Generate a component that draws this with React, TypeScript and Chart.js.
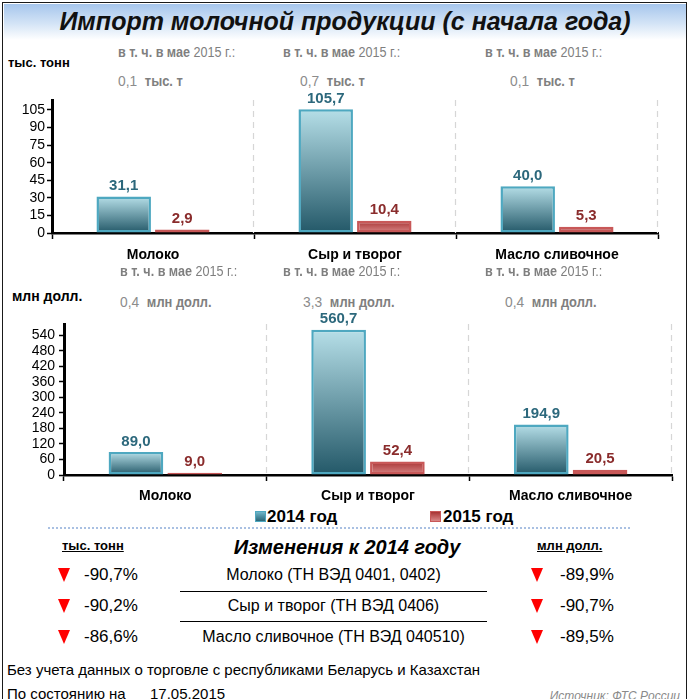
import React, { useEffect, useRef } from "react";
import { Chart, registerables } from "chart.js";
Chart.register(...registerables);

const categories = ["Молоко", "Сыр и творог", "Масло сливочное"];
const volume2014 = [31.1, 105.7, 40.0];
const volume2015 = [2.9, 10.4, 5.3];
const value2014 = [89.0, 560.7, 194.9];
const value2015 = [9.0, 52.4, 20.5];
const seriesNames = ["2014 год", "2015 год"];
const mayVolume = ["0,1", "0,7", "0,1"];
const mayValue = ["0,4", "3,3", "0,4"];
const changeVolume = ["-90,7%", "-90,2%", "-86,6%"];
const changeValue = ["-89,9%", "-90,7%", "-89,5%"];
const productCodes = [
  "Молоко (ТН ВЭД 0401, 0402)",
  "Сыр и творог (ТН ВЭД 0406)",
  "Масло сливочное (ТН ВЭД 040510)",
];
const volumeStep = 15;
const volumeMax = 113.5;
const valueStep = 60;
const valueMax = 583;

const FONT = "'Liberation Sans', Arial, Helvetica, sans-serif";

const fmt = (v: number) => v.toFixed(1).replace(".", ",");

const gradientFill = (top: string, bottom: string) => (c: any) => {
  const chart = c.chart;
  const ys = chart.scales && chart.scales.y;
  if (!ys || c.raw == null) return bottom;
  const y1 = ys.getPixelForValue(c.raw);
  const y0 = ys.getPixelForValue(0);
  if (!isFinite(y1) || !isFinite(y0) || y0 - y1 < 1) return top;
  const g = chart.ctx.createLinearGradient(0, y1, 0, y0);
  g.addColorStop(0, top);
  g.addColorStop(1, bottom);
  return g;
};

const separatorPlugin = {
  id: "separators",
  beforeDatasetsDraw(chart: any) {
    const ctx = chart.ctx;
    const xs = chart.scales.x;
    const n = chart.data.labels.length;
    const w = (xs.right - xs.left) / n;
    const { top, bottom } = chart.chartArea;
    ctx.save();
    ctx.strokeStyle = "#d6d6d6";
    ctx.lineWidth = 1.2;
    ctx.setLineDash([6, 5]);
    for (let k = 1; k <= n; k++) {
      const x = Math.round(xs.left + k * w) - 0.5;
      ctx.beginPath();
      ctx.moveTo(x, top);
      ctx.lineTo(x, bottom);
      ctx.stroke();
    }
    ctx.restore();
  },
};

const labelPlugin = {
  id: "valueLabels",
  afterDatasetsDraw(chart: any) {
    const ctx = chart.ctx;
    chart.data.datasets.forEach((ds: any, i: number) => {
      const meta = chart.getDatasetMeta(i);
      meta.data.forEach((bar: any, j: number) => {
        ctx.save();
        ctx.font = `bold 15px ${FONT}`;
        ctx.fillStyle = i === 0 ? "#2c687c" : "#8a2c2c";
        ctx.textAlign = "center";
        ctx.textBaseline = "bottom";
        ctx.fillText(fmt(ds.data[j]), bar.x, bar.y - 3);
        ctx.restore();
      });
    });
  },
};

type PanelProps = {
  left: number;
  top: number;
  width: number;
  height: number;
  axisX: number;
  rightX: number;
  plotTop: number;
  zeroY: number;
  d14: number[];
  d15: number[];
  max: number;
  step: number;
  yPad: number;
  xPad: number;
};

function BarPanel(p: PanelProps) {
  const ref = useRef<HTMLCanvasElement>(null);
  useEffect(() => {
    const chart = new Chart(ref.current as HTMLCanvasElement, {
      type: "bar",
      data: {
        labels: categories,
        datasets: [
          {
            label: seriesNames[0],
            data: p.d14,
            backgroundColor: gradientFill("#b6dfe8", "#235868") as any,
            borderColor: "#4ea8c0",
            borderWidth: 2.5,
            borderSkipped: false,
            categoryPercentage: 0.58,
            barPercentage: 0.93,
          },
          {
            label: seriesNames[1],
            data: p.d15,
            backgroundColor: gradientFill("#a83434", "#d98888") as any,
            borderColor: "#c85858",
            borderWidth: 2.5,
            borderSkipped: false,
            categoryPercentage: 0.58,
            barPercentage: 0.93,
          },
        ],
      },
      options: {
        responsive: false,
        maintainAspectRatio: false,
        animation: false,
        layout: {
          padding: {
            top: p.plotTop - p.top,
            right: p.left + p.width - p.rightX,
            left: 0,
            bottom: 0,
          },
        },
        plugins: { legend: { display: false }, tooltip: { enabled: false } },
        scales: {
          x: {
            grid: {
              offset: true,
              drawOnChartArea: false,
              color: "#000",
              tickColor: "#000",
              tickLength: 6,
              tickWidth: 1.5,
            },
            border: { color: "#000", width: 2.5 },
            ticks: {
              color: "#000",
              font: { family: FONT, size: 14, weight: "bold" },
              padding: p.xPad,
              maxRotation: 0,
              autoSkip: false,
            },
            afterFit: (s: any) => {
              s.height = p.top + p.height - p.zeroY;
            },
          },
          y: {
            min: 0,
            max: p.max,
            grid: {
              drawOnChartArea: false,
              tickColor: "#000",
              tickLength: 5,
              tickWidth: 1.5,
            },
            border: { color: "#000", width: 3 },
            ticks: {
              stepSize: p.step,
              autoSkip: false,
              includeBounds: false,
              color: "#000",
              font: { family: FONT, size: 14, lineHeight: 1 },
              padding: p.yPad,
            },
            afterBuildTicks: (s: any) => {
              s.ticks = s.ticks.filter((t: any) => Math.abs(t.value % p.step) < 1e-6);
            },
            afterFit: (s: any) => {
              s.width = p.axisX - p.left;
            },
          },
        },
      },
      plugins: [separatorPlugin, labelPlugin],
    } as any);
    return () => chart.destroy();
  }, []);
  return (
    <canvas
      ref={ref}
      width={p.width}
      height={p.height}
      style={{ position: "absolute", left: p.left, top: p.top, width: p.width, height: p.height }}
    />
  );
}

const abs = (x: number, y: number, extra: any = {}) => ({
  position: "absolute" as const,
  left: x,
  top: y,
  whiteSpace: "nowrap" as const,
  ...extra,
});

function Narrow({ x, y, children, size = 14, scale = 0.9 }: any) {
  return (
    <div
      style={abs(x, y, {
        fontFamily: FONT,
        fontSize: size,
        color: "#7f7f7f",
        transform: `scaleX(${scale})`,
        transformOrigin: "left center",
        lineHeight: "16px",
      })}
    >
      {children}
    </div>
  );
}

function MayNote({ x, y }: any) {
  return (
    <Narrow x={x} y={y} size={14} scale={0.9}>
      <b>в т. ч. в мае</b> 2015 г.:
    </Narrow>
  );
}

function MayValue({ x, y, v, unit }: any) {
  return (
    <Narrow x={x} y={y} size={15} scale={0.92}>
      <span style={{ color: "#8c8c8c" }}>{v}</span>&nbsp;&nbsp;<b style={{ fontSize: 14 }}>{unit}</b>
    </Narrow>
  );
}

function Tri({ x, y }: any) {
  return (
    <div
      style={abs(x, y, {
        width: 0,
        height: 0,
        borderLeft: "6.5px solid transparent",
        borderRight: "6.5px solid transparent",
        borderTop: "14px solid #ff0000",
      })}
    />
  );
}

export default function App() {
  const topNoteX = [118, 283, 485];
  const topValX = [118, 300, 510];
  const botNoteX = [120, 283, 485];
  const botValX = [120, 303, 505];
  const rowY = [575, 606, 637];
  return (
    <div
      style={{
        position: "absolute",
        left: 0,
        top: 0,
        width: 690,
        height: 699,
        overflow: "hidden",
        background: "#fff",
        fontFamily: FONT,
      }}
    >
      <div
        style={{
          position: "absolute",
          left: 2,
          top: 2,
          width: 683,
          height: 720,
          border: "1.5px solid #1a1a1a",
        }}
      />
      <div
        style={{
          position: "absolute",
          left: 3.5,
          top: 3.5,
          width: 682,
          height: 36,
          background: "linear-gradient(to bottom, #a6c6ec 0%, #d4e4f6 55%, #ffffff 100%)",
        }}
      />
      <div
        style={abs(0, 6, {
          width: 690,
          textAlign: "center",
          fontSize: 25,
          fontWeight: "bold",
          fontStyle: "italic",
          color: "#111",
          lineHeight: "30px",
        })}
      >
        Импорт молочной продукции (с начала года)
      </div>

      <div style={abs(8, 55, { fontSize: 13, fontWeight: "bold", lineHeight: "16px" })}>тыс. тонн</div>
      {topNoteX.map((x, i) => (
        <MayNote key={"tn" + i} x={x} y={44} />
      ))}
      {topValX.map((x, i) => (
        <MayValue key={"tv" + i} x={x} y={73} v={mayVolume[i]} unit="тыс. т" />
      ))}

      <BarPanel
        left={0}
        top={88}
        width={690}
        height={180}
        axisX={52}
        rightX={658}
        plotTop={100}
        zeroY={233}
        d14={volume2014}
        d15={volume2015}
        max={volumeMax}
        step={volumeStep}
        yPad={2}
        xPad={8}
      />

      <div style={abs(12, 288, { fontSize: 14, fontWeight: "bold", lineHeight: "16px" })}>млн долл.</div>
      {botNoteX.map((x, i) => (
        <MayNote key={"bn" + i} x={x} y={263} />
      ))}
      {botValX.map((x, i) => (
        <MayValue key={"bv" + i} x={x} y={294} v={mayValue[i]} unit="млн долл." />
      ))}

      <BarPanel
        left={0}
        top={305}
        width={690}
        height={200}
        axisX={64}
        rightX={672}
        plotTop={324}
        zeroY={475}
        d14={value2014}
        d15={value2015}
        max={valueMax}
        step={valueStep}
        yPad={4}
        xPad={7}
      />

      {/* legend */}
      <div
        style={abs(255, 511, {
          width: 9,
          height: 9,
          background: "linear-gradient(#6fb6c9, #2b6677)",
          border: "1.5px solid #4ea8c0",
        })}
      />
      <div style={abs(267, 506, { fontSize: 17, fontWeight: "bold", lineHeight: "22px" })}>{seriesNames[0]}</div>
      <div
        style={abs(430, 511, {
          width: 9,
          height: 9,
          background: "linear-gradient(#a83434, #d98888)",
          border: "1.5px solid #c85858",
        })}
      />
      <div style={abs(443, 506, { fontSize: 17, fontWeight: "bold", lineHeight: "22px" })}>{seriesNames[1]}</div>
      <div style={abs(48, 527, { width: 582, borderTop: "2px dotted #a9c0e2" })} />

      {/* table */}
      <div
        style={abs(62, 538, {
          fontSize: 13,
          fontWeight: "bold",
          textDecoration: "underline",
          lineHeight: "16px",
        })}
      >
        тыс. тонн
      </div>
      <div
        style={abs(0, 535, {
          width: 694,
          textAlign: "center",
          fontSize: 20,
          fontWeight: "bold",
          fontStyle: "italic",
          lineHeight: "24px",
        })}
      >
        Изменения к 2014 году
      </div>
      <div
        style={abs(537, 538, {
          fontSize: 13,
          fontWeight: "bold",
          textDecoration: "underline",
          lineHeight: "16px",
        })}
      >
        млн долл.
      </div>
      {rowY.map((y, i) => (
        <React.Fragment key={"r" + i}>
          <Tri x={58} y={y - 7} />
          <div style={abs(84, y - 10, { fontSize: 17, lineHeight: "20px" })}>{changeVolume[i]}</div>
          <div style={abs(180, y - 10, { width: 307, textAlign: "center", fontSize: 16, lineHeight: "20px" })}>
            {productCodes[i]}
          </div>
          <Tri x={531} y={y - 7} />
          <div style={abs(560, y - 10, { fontSize: 17, lineHeight: "20px" })}>{changeValue[i]}</div>
        </React.Fragment>
      ))}
      <div style={abs(180, 591, { width: 307, borderTop: "1px solid #000" })} />
      <div style={abs(180, 621, { width: 307, borderTop: "1px solid #000" })} />

      <div style={abs(7, 660, { fontSize: 15, lineHeight: "20px" })}>
        Без учета данных о торговле с республиками Беларусь и Казахстан
      </div>
      <div style={abs(7, 684, { fontSize: 15, lineHeight: "20px" })}>По состоянию на</div>
      <div style={abs(150, 684, { fontSize: 15, lineHeight: "20px" })}>17.05.2015</div>
      <div
        style={abs(0, 688, {
          width: 680,
          textAlign: "right",
          fontSize: 12,
          fontStyle: "italic",
          color: "#8a8a8a",
          lineHeight: "16px",
        })}
      >
        Источник: ФТС России
      </div>
    </div>
  );
}
